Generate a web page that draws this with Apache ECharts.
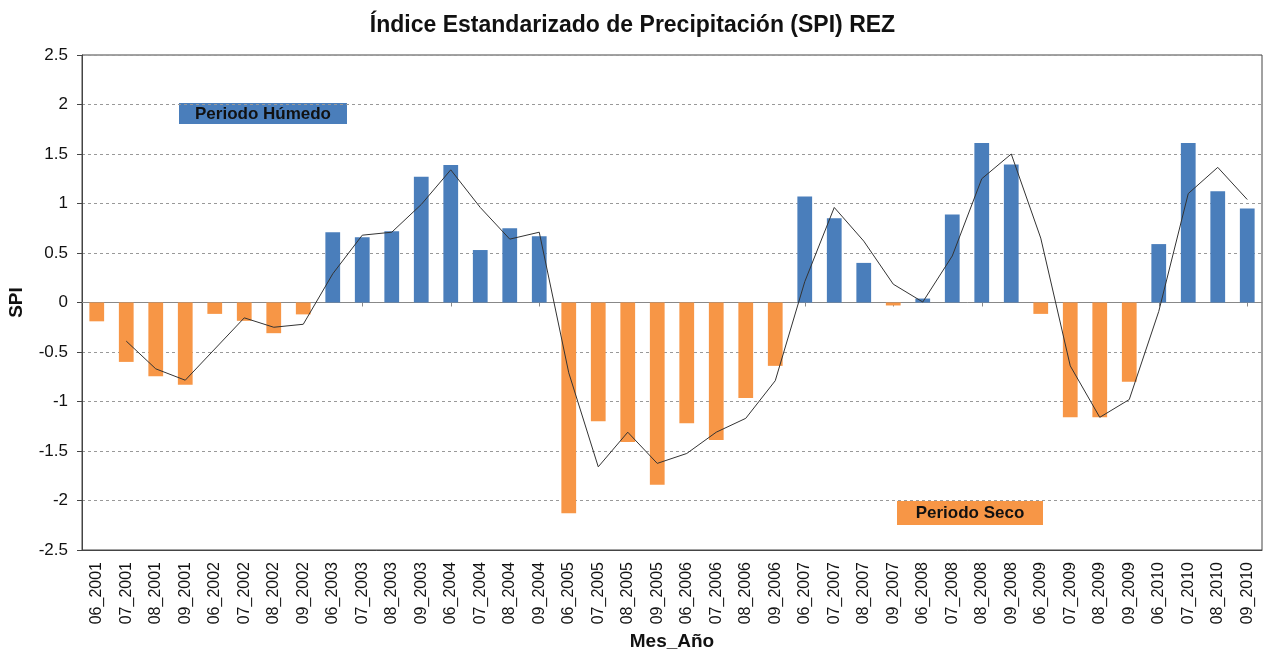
<!DOCTYPE html>
<html>
<head>
<meta charset="utf-8">
<title>SPI REZ</title>
<script src="https://cdn.jsdelivr.net/npm/echarts@6/dist/echarts.min.js"></script>
<style>
  html, body { margin: 0; padding: 0; background: #fff; }
  #spi_chart { width: 1265px; height: 652px; }
</style>
</head>
<body>
<div id="spi_chart"></div>
<script>
var meses = ['06_2001', '07_2001', '08_2001', '09_2001', '06_2002', '07_2002', '08_2002', '09_2002',
    '06_2003', '07_2003', '08_2003', '09_2003', '06_2004', '07_2004', '08_2004', '09_2004',
    '06_2005', '07_2005', '08_2005', '09_2005', '06_2006', '07_2006', '08_2006', '09_2006',
    '06_2007', '07_2007', '08_2007', '09_2007', '06_2008', '07_2008', '08_2008', '09_2008',
    '06_2009', '07_2009', '08_2009', '09_2009', '06_2010', '07_2010', '08_2010', '09_2010'];

// SPI mensual (barras)
var spi = [-0.19, -0.60, -0.745, -0.83, -0.115, -0.185, -0.31, -0.12,
    0.71, 0.66, 0.72, 1.27, 1.39, 0.53, 0.75, 0.67,
    -2.13, -1.20, -1.41, -1.84, -1.22, -1.39, -0.965, -0.64,
    1.07, 0.85, 0.40, -0.03, 0.04, 0.89, 1.61, 1.395,
    -0.115, -1.16, -1.16, -0.80, 0.59, 1.61, 1.125, 0.95];

// linea de tendencia
var tendencia = ['-', -0.39, -0.67, -0.785, -0.47, -0.155, -0.25, -0.22,
    0.29, 0.68, 0.71, 0.99, 1.34, 0.96, 0.64, 0.71,
    -0.71, -1.66, -1.31, -1.625, -1.525, -1.31, -1.17, -0.79,
    0.21, 0.96, 0.62, 0.185, 0.005, 0.47, 1.25, 1.50,
    0.65, -0.64, -1.16, -0.98, -0.09, 1.10, 1.365, 1.04];

var azul = '#4a7ebb';
var naranja = '#f79646';
var fuente = 'Liberation Sans, Arial, sans-serif';

var myChart = echarts.init(document.getElementById('spi_chart'));
var spi_option = {
    animation: false,
    title: {
        text: 'Índice Estandarizado de Precipitación (SPI) REZ',
        left: 'center',
        top: 9,
        textStyle: {
            fontFamily: fuente,
            fontSize: 23,
            fontWeight: 'bold',
            color: '#111'
        }
    },
    grid: {
        left: 82,
        right: 3,
        top: 55,
        bottom: 102,
        outerBoundsMode: 'none',
        containLabel: false,
        show: true,
        borderColor: '#444',
        borderWidth: 1
    },
    xAxis: [
        {
            type: 'category',
            data: meses,
            position: 'bottom',
            name: 'Mes_Año',
            nameLocation: 'middle',
            nameGap: 80,
            nameTextStyle: {
                fontFamily: fuente,
                fontSize: 19,
                fontWeight: 'bold',
                color: '#111'
            },
            axisLine: {
                onZero: false,
                lineStyle: { color: '#444' }
            },
            axisTick: { show: false },
            axisLabel: {
                rotate: 90,
                interval: 0,
                margin: 12,
                fontFamily: fuente,
                fontSize: 16,
                color: '#111'
            },
            splitLine: { show: false }
        },
        {
            // linea del cero con sus marcas
            type: 'category',
            data: meses,
            position: 'top',
            axisLine: {
                onZero: true,
                lineStyle: { color: '#888' }
            },
            axisTick: {
                show: true,
                alignWithLabel: true,
                inside: true,
                length: 4,
                lineStyle: { color: '#888' }
            },
            axisLabel: { show: false },
            splitLine: { show: false }
        }
    ],
    yAxis: {
        type: 'value',
        min: -2.5,
        max: 2.5,
        interval: 0.5,
        name: 'SPI',
        nameLocation: 'middle',
        nameGap: 56,
        nameTextStyle: {
            fontFamily: fuente,
            fontSize: 19,
            fontWeight: 'bold',
            color: '#111'
        },
        axisLine: {
            show: true,
            lineStyle: { color: '#444' }
        },
        axisTick: {
            show: true,
            length: 5,
            lineStyle: { color: '#444' }
        },
        axisLabel: {
            margin: 14,
            fontFamily: fuente,
            fontSize: 17,
            color: '#111'
        },
        splitLine: {
            lineStyle: {
                color: '#999',
                type: [3, 3]
            }
        }
    },
    series: [
        {
            name: 'SPI',
            type: 'bar',
            xAxisIndex: 0,
            barWidth: '50%',
            data: spi,
            itemStyle: {
                color: function (p) {
                    return p.value >= 0 ? azul : naranja;
                }
            }
        },
        {
            name: 'Tendencia',
            type: 'line',
            xAxisIndex: 0,
            data: tendencia,
            symbol: 'none',
            lineStyle: {
                color: '#333',
                width: 1
            },
            z: 5
        }
    ],
    graphic: [
        {
            type: 'group',
            left: 179,
            top: 103,
            children: [
                { type: 'rect', shape: { x: 0, y: 0, width: 168, height: 21 }, style: { fill: azul } },
                {
                    type: 'text', x: 84, y: 11,
                    style: {
                        text: 'Periodo Húmedo', align: 'center', verticalAlign: 'middle',
                        font: 'bold 17px ' + fuente, fill: '#111'
                    }
                }
            ]
        },
        {
            type: 'group',
            left: 897,
            top: 501,
            children: [
                { type: 'rect', shape: { x: 0, y: 0, width: 146, height: 24 }, style: { fill: naranja } },
                {
                    type: 'text', x: 73, y: 12,
                    style: {
                        text: 'Periodo Seco', align: 'center', verticalAlign: 'middle',
                        font: 'bold 17px ' + fuente, fill: '#111'
                    }
                }
            ]
        }
    ]
};
myChart.setOption(spi_option);
</script>
</body>
</html>
